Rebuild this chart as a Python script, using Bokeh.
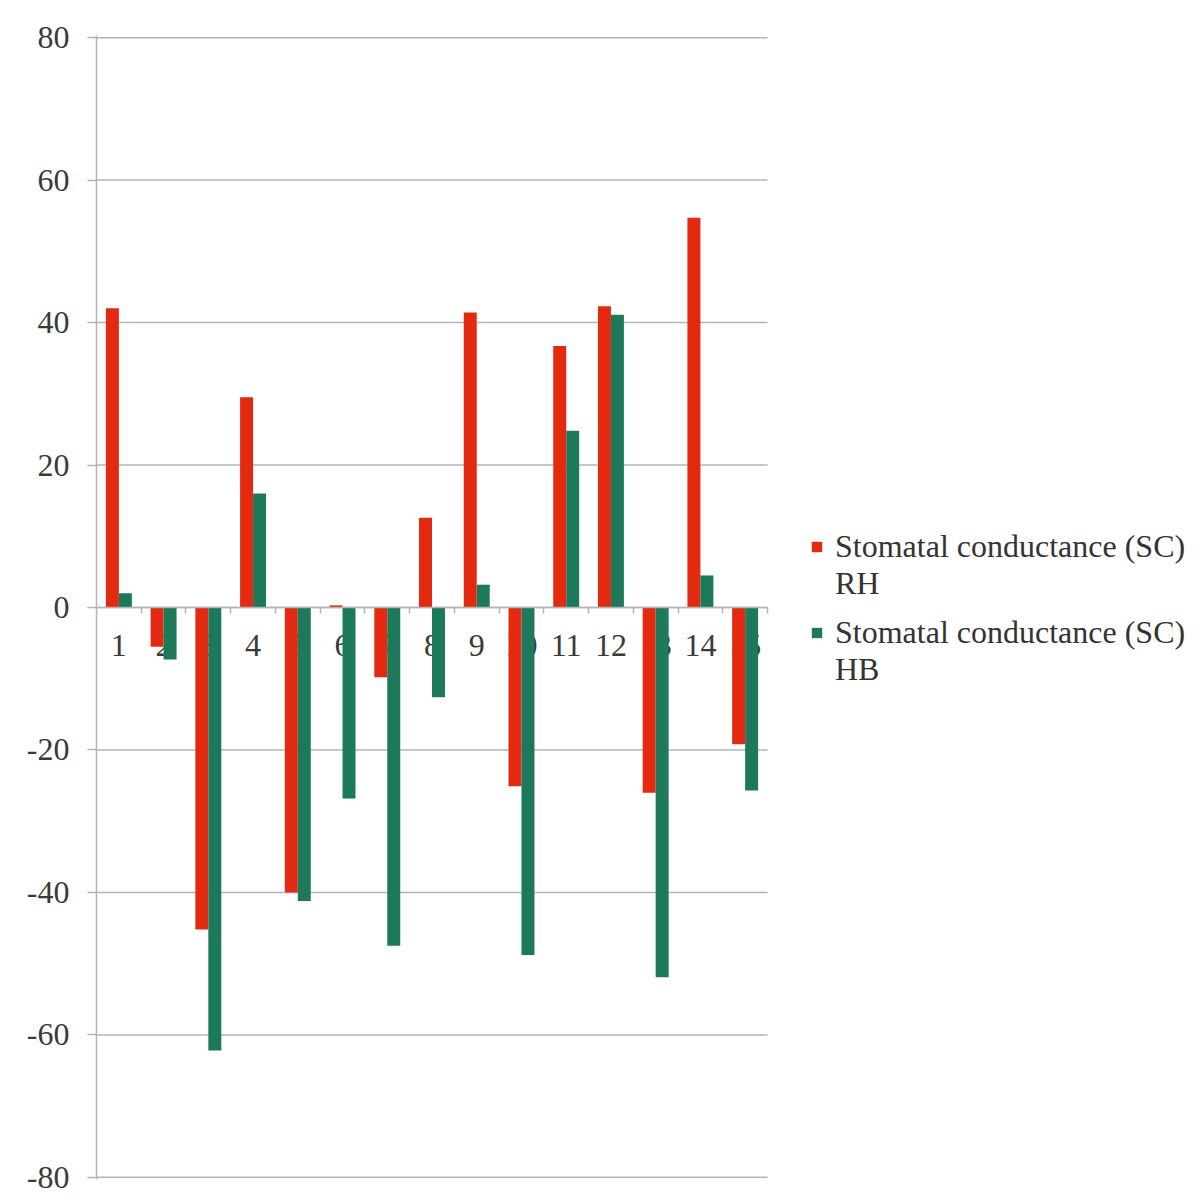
from bokeh.plotting import figure
from bokeh.models import (ColumnDataSource, LinearAxis, FixedTicker, Legend,
                          LegendItem, PrintfTickFormatter)
from bokeh.transform import dodge
from bokeh.core.properties import value
from bokeh.embed import file_html
from bokeh.resources import INLINE

# Stomatal conductance change per sample
samples = list(range(1, 16))
sample_labels = [str(s) for s in samples]
sc_rh = [42.0, -5.5, -45.2, 29.5, -40.0, 0.3, -9.8, 12.6, 41.4, -25.1,
         36.7, 42.3, -26.0, 54.7, -19.2]
sc_hb = [2.0, -7.3, -62.2, 16.0, -41.2, -26.8, -47.5, -12.6, 3.2, -48.8,
         24.8, 41.1, -51.9, 4.5, -25.7]
y_ticks = [-80, -60, -40, -20, 0, 20, 40, 60, 80]

series_title = "Stomatal conductance (SC)"
series_tags = ["RH", "HB"]
RED = "#e3290f"
GREEN = "#1c7a5a"
FONT = "Liberation Serif"
GRID = "#b4b4b8"
TEXT = "#3a3a3a"

n = len(samples)
x_lo, x_hi = 0.5, n + 0.5
# the frame also spans the legend area to the right of the bars
cat_px = 671 / n
x_end = x_lo + 1107 / cat_px

src = ColumnDataSource(dict(x=samples, label=sample_labels, rh=sc_rh, hb=sc_hb,
                            zero=[0] * n))

p = figure(width=1203, height=1201, x_range=(x_lo, x_end), y_range=(-80.3, 80.3),
           output_backend="svg", toolbar_location=None, x_axis_location=None,
           min_border_left=96, min_border_right=0, min_border_top=35,
           min_border_bottom=22, background_fill_color="white",
           border_fill_color="white")
p.outline_line_color = None
p.xgrid.grid_line_color = None
p.ygrid.grid_line_color = None

# horizontal gridlines across the category area only
p.segment(x0=[x_lo] * len(y_ticks), x1=[x_hi] * len(y_ticks), y0=y_ticks,
          y1=y_ticks, line_color=GRID, line_width=1.5)

# category labels sit under the bars
p.text(x="x", y="zero", text="label", source=src, y_offset=38,
       text_align="center", text_baseline="middle", text_font=value(FONT),
       text_font_size="32px", text_color=TEXT)

bar_w = 0.29
r_rh = p.vbar(x=dodge("x", -bar_w / 2, range=p.x_range), top="rh", width=bar_w,
              source=src, fill_color=RED, line_color=None)
r_hb = p.vbar(x=dodge("x", bar_w / 2, range=p.x_range), top="hb", width=bar_w,
              source=src, fill_color=GREEN, line_color=None)
# invisible renderer for the second line of each legend entry
r_blank = p.vbar(x=[], top=[], width=bar_w, fill_alpha=0, line_alpha=0)

# y axis
yax = p.yaxis[0]
yax.ticker = FixedTicker(ticks=y_ticks)
yax.formatter = PrintfTickFormatter(format="%d")
yax.axis_line_color = GRID
yax.axis_line_width = 1.5
yax.major_tick_line_color = GRID
yax.major_tick_line_width = 1.5
yax.major_tick_out = 9
yax.major_tick_in = 0
yax.minor_tick_line_color = None
yax.major_label_standoff = 18
yax.major_label_text_font = FONT
yax.major_label_text_font_size = "32px"
yax.major_label_text_color = TEXT

# horizontal category axis crossing at zero
xax = LinearAxis(fixed_location=0, bounds=(x_lo, x_hi),
                 ticker=FixedTicker(ticks=[s + 0.5 for s in range(0, n + 1)]))
xax.axis_line_color = GRID
xax.axis_line_width = 1.5
xax.major_tick_line_color = GRID
xax.major_tick_line_width = 1.5
xax.major_tick_out = 6
xax.major_tick_in = 0
xax.minor_tick_line_color = None
xax.major_label_text_font_size = "0px"
xax.major_label_text_alpha = 0
p.add_layout(xax, "below")

for renderer, tag, loc in [(r_rh, series_tags[0], (714, 577)),
                           (r_hb, series_tags[1], (714, 491))]:
    lg = Legend(items=[LegendItem(label=series_title, renderers=[renderer]),
                       LegendItem(label=tag, renderers=[r_blank])],
                location=loc, padding=0, margin=0, spacing=0, label_height=36,
                glyph_width=13, glyph_height=13, label_standoff=12,
                label_text_font=FONT, label_text_font_size="32px",
                label_text_color="#333333", border_line_color=None,
                background_fill_alpha=0)
    p.add_layout(lg)

open("out.html", "w").write(file_html(p, INLINE))
